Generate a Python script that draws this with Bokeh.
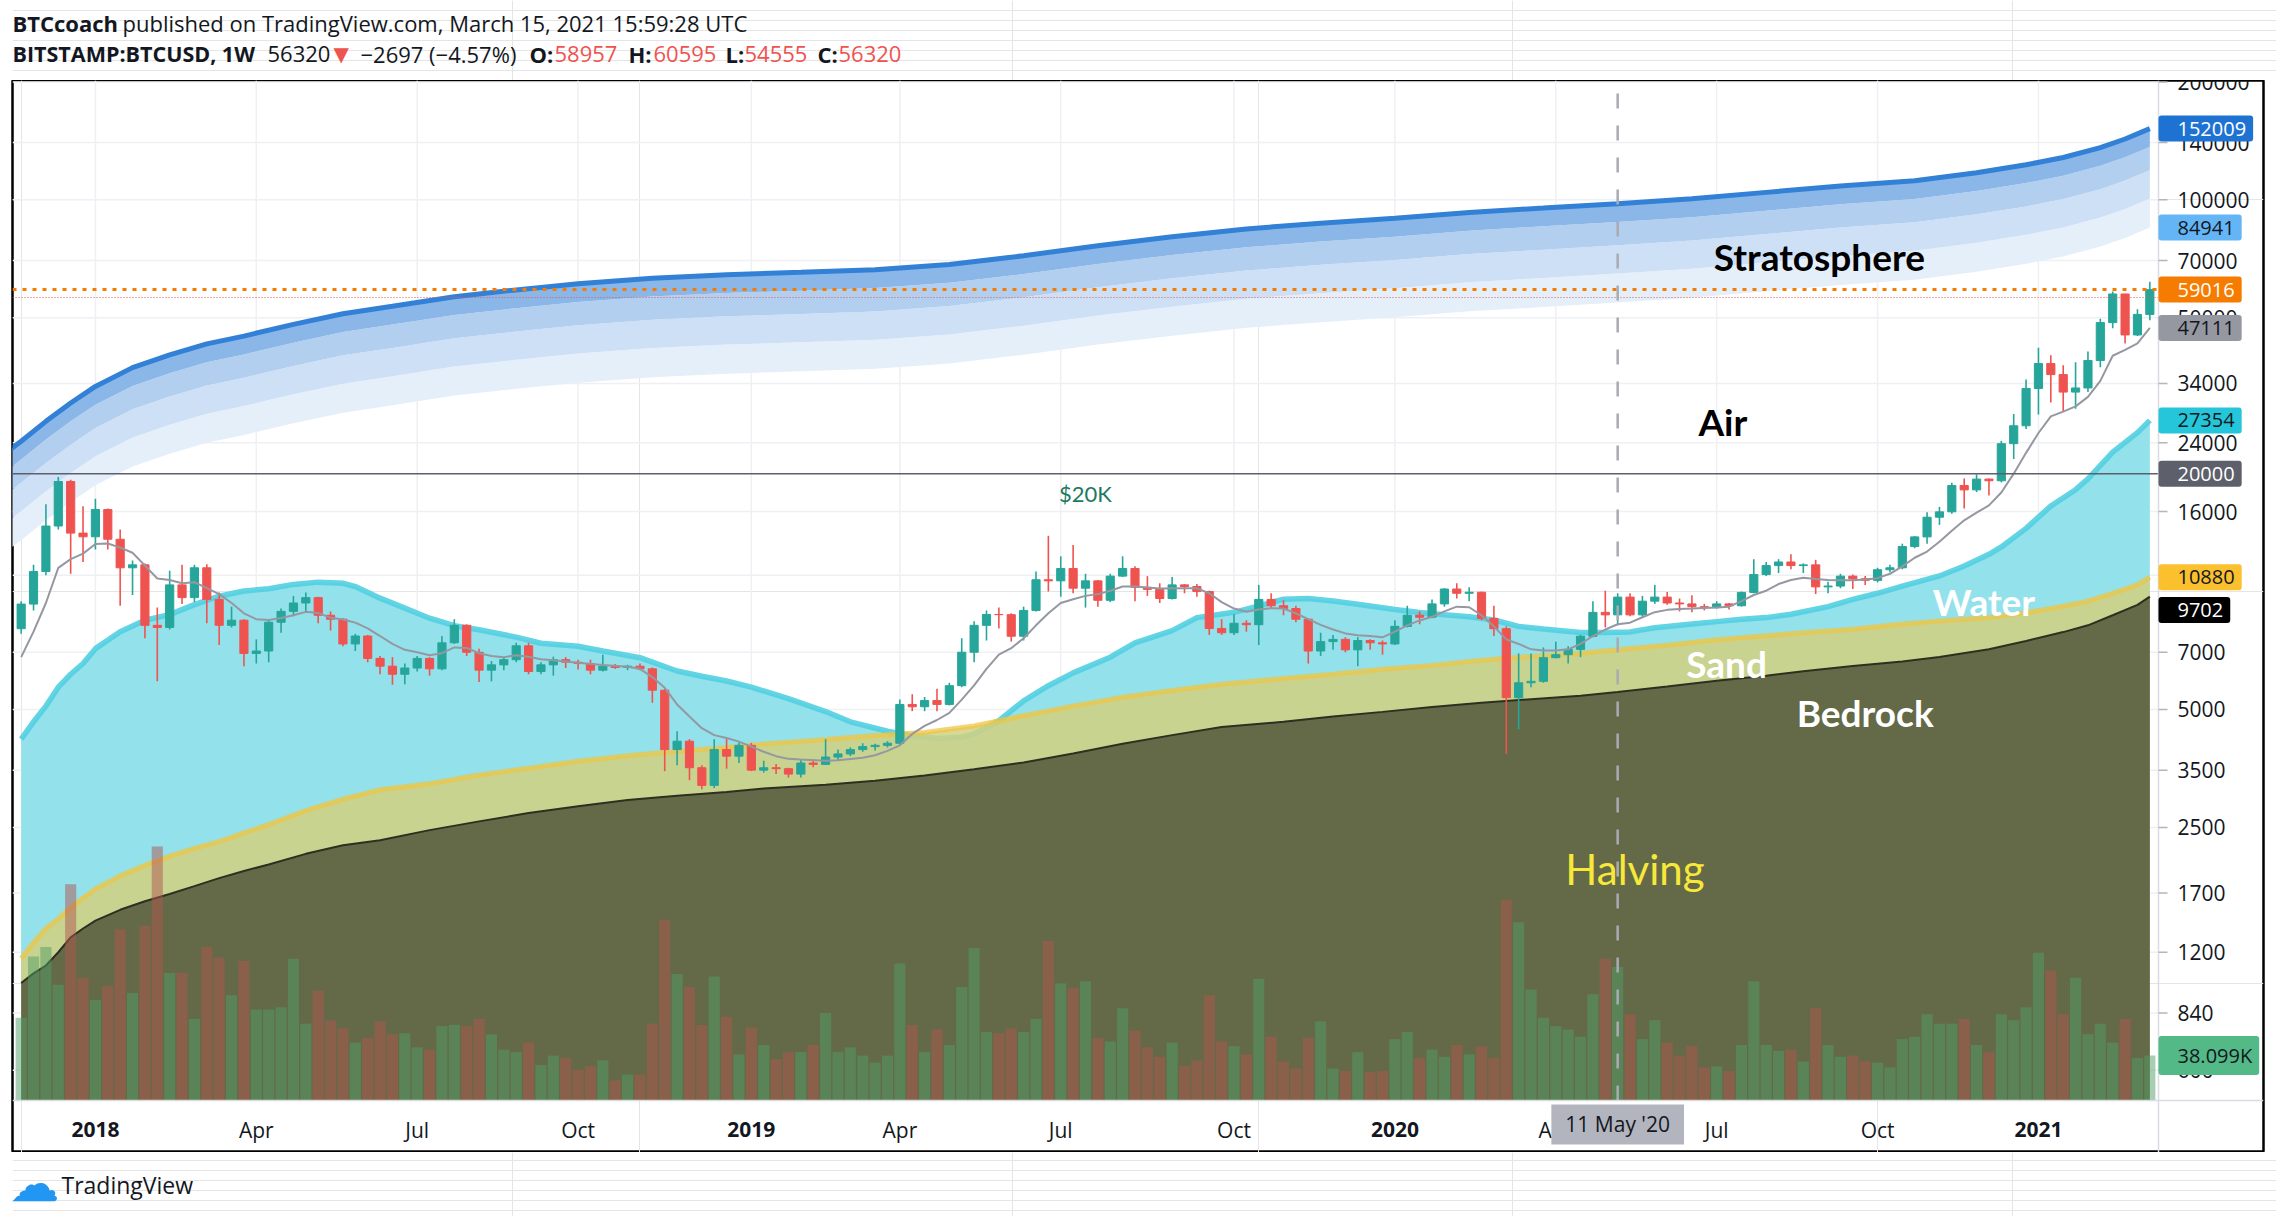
from bokeh.plotting import figure
from bokeh.layouts import column
from bokeh.models import Range1d, LinearScale, Label, ColumnDataSource
from bokeh.embed import file_html
from bokeh.resources import INLINE
from bokeh.core.properties import value

# ------------------------------------------------------------------ data
# weekly bars, index 0 = week of 20 Nov 2017 ... index 172 = week of 8 Mar 2021
opens = [8040, 9290, 11250, 14700, 19100, 14100, 13800, 16200, 13600, 11500,
         11700, 8200, 8100, 10400, 9650, 11500, 9550, 8200, 8450, 6950,
         7050, 8350, 8900, 9350, 9650, 8700, 8500, 7350, 7700, 6750,
         6450, 6150, 6380, 6750, 6350, 7400, 8200, 7000, 6300, 6500,
         6700, 7270, 6250, 6500, 6700, 6600, 6550, 6300, 6450, 6400,
         6450, 6350, 5600, 3950, 4150, 3550, 3200, 3950, 3800, 4050,
         3500, 3550, 3530, 3420, 3650, 3620, 3780, 3850, 3950, 4020,
         4050, 4100, 5150, 5080, 5270, 5150, 5750, 7000, 8200, 8740,
         8730, 7690, 8950, 10720, 10650, 11450, 10200, 10650, 9500, 10950,
         11450, 10250, 10130, 9600, 10400, 10300, 10000, 8050, 7850, 8300,
         8230, 9550, 9200, 9050, 8500, 7050, 7450, 7550, 7100, 7500,
         7400, 7350, 8150, 8700, 8600, 9300, 10150, 9900, 9960, 8540,
         8040, 5360, 5850, 5900, 6780, 6900, 7120, 7690, 8850, 8720,
         9680, 8720, 9450, 9680, 9350, 9300, 9150, 9100, 9300, 9200,
         9950, 11050, 11650, 11900, 11650, 11700, 10280, 10330, 10950, 10780,
         10680, 11370, 11500, 13030, 13790, 15480, 15980, 18650, 18180, 19370,
         19180, 23850, 26500, 33000, 38200, 35800, 32300, 33100, 38900, 48600,
         57500, 45200, 51000]
highs = [9450, 11700, 16700, 19600, 19300, 16500, 17250, 16300, 14400, 12000,
         11800, 9100, 11300, 11700, 11700, 11750, 9950, 9150, 8500, 7550,
         8450, 9050, 9750, 9950, 9700, 8900, 8550, 7800, 7750, 6850,
         6800, 6550, 6850, 6800, 7700, 8500, 8250, 7150, 6650, 6800,
         7400, 7400, 6600, 6820, 6800, 6700, 6700, 6900, 6530, 6500,
         6550, 6400, 5650, 4400, 4200, 3600, 4200, 4230, 4120, 4110,
         3700, 3630, 3550, 3720, 3700, 4200, 3950, 4000, 4100, 4090,
         4150, 5300, 5470, 5380, 5650, 5850, 7600, 8400, 8950, 9100,
         8800, 9150, 11250, 13880, 12300, 13150, 11100, 10700, 11100, 12300,
         11600, 10950, 10500, 10900, 10450, 10450, 10050, 8500, 8750, 8450,
         10400, 9900, 9500, 9200, 8500, 7850, 7750, 7650, 7650, 7550,
         7500, 8450, 9200, 8900, 9550, 10200, 10500, 10250, 10000, 9200,
         8150, 6950, 6950, 7200, 7450, 7250, 7750, 9450, 10050, 9900,
         9900, 9750, 10400, 9980, 9600, 9780, 9300, 9450, 9350, 10000,
         12100, 11900, 12100, 12450, 11800, 12050, 10600, 11100, 11050, 10950,
         11500, 11700, 13250, 13850, 15950, 16450, 18950, 19450, 19900, 19450,
         24250, 28400, 34800, 41950, 40100, 37850, 38500, 41000, 49700, 58350,
         57600, 52600, 61800]
lows = [7800, 8950, 11000, 14400, 11100, 11900, 12800, 12800, 9200, 9800,
        7600, 5900, 8000, 9300, 9400, 8300, 7300, 8100, 6450, 6550,
        6600, 7850, 8650, 8850, 8300, 7950, 7250, 7050, 6600, 6150,
        5780, 5800, 6250, 6100, 6300, 7350, 6850, 5880, 5900, 6300,
        6600, 6150, 6150, 6100, 6380, 6320, 6150, 6250, 6350, 6300,
        6300, 5200, 3480, 3600, 3300, 3130, 3150, 3530, 3650, 3480,
        3450, 3420, 3350, 3350, 3560, 3610, 3700, 3800, 3900, 3930,
        4000, 4050, 4950, 4950, 4950, 5120, 5700, 6600, 7500, 8050,
        7450, 7500, 8900, 10000, 9700, 9900, 9100, 9150, 9400, 10900,
        9450, 9750, 9350, 9550, 9900, 9700, 7750, 7750, 7750, 7900,
        7300, 9050, 8700, 8350, 6550, 6850, 7100, 7000, 6450, 7100,
        6900, 7300, 8100, 8250, 8550, 9150, 9600, 9450, 8450, 7700,
        3850, 4450, 5700, 5850, 6750, 6550, 6800, 7650, 8100, 8200,
        8650, 8630, 9300, 9250, 8900, 8850, 8950, 9050, 9000, 9150,
        9900, 10950, 11150, 11400, 11150, 9850, 9900, 10200, 10150, 10400,
        10550, 11200, 11400, 12900, 13250, 14800, 15800, 16300, 17950, 17600,
        19000, 21800, 26000, 28300, 30400, 28850, 29300, 32300, 37400, 47000,
        43000, 44950, 49300]
closes = [9290, 11250, 14700, 19100, 14100, 13800, 16200, 13600, 11500, 11700,
          8200, 8100, 10400, 9650, 11500, 9550, 8200, 8450, 6950, 7050,
          8350, 8900, 9350, 9650, 8700, 8500, 7350, 7700, 6750, 6450,
          6150, 6380, 6750, 6350, 7400, 8200, 7000, 6300, 6500, 6700,
          7270, 6250, 6500, 6700, 6600, 6550, 6300, 6450, 6400, 6450,
          6350, 5600, 3950, 4150, 3550, 3200, 3950, 3800, 4050, 3500,
          3550, 3530, 3420, 3650, 3620, 3780, 3850, 3950, 4020, 4050,
          4100, 5150, 5080, 5270, 5150, 5750, 7000, 8200, 8740, 8730,
          7690, 8950, 10720, 10650, 11450, 10200, 10650, 9500, 10950, 11450,
          10250, 10130, 9600, 10400, 10300, 10000, 8050, 7850, 8300, 8230,
          9550, 9200, 9050, 8500, 7050, 7450, 7550, 7100, 7500, 7400,
          7350, 8150, 8700, 8600, 9300, 10150, 9900, 9960, 8540, 8040,
          5360, 5850, 5900, 6780, 6900, 7120, 7690, 8850, 8720, 9680,
          8720, 9450, 9680, 9350, 9300, 9150, 9100, 9300, 9200, 9950,
          11050, 11650, 11900, 11650, 11700, 10280, 10330, 10950, 10780, 10680,
          11370, 11500, 13030, 13790, 15480, 15980, 18650, 18180, 19370, 19180,
          23850, 26500, 33000, 38200, 35800, 32300, 33100, 38900, 48600, 57500,
          45200, 51000, 59000]
volume_k = [70, 122, 130, 98, 183, 104, 85, 97, 145, 91,
            148, 215, 108, 108, 69, 130, 121, 89, 118, 77,
            77, 79, 120, 65, 93, 68, 61, 49, 53, 67,
            56, 57, 45, 43, 63, 64, 63, 69, 56, 43,
            41, 49, 30, 38, 36, 26, 29, 34, 17, 22,
            22, 65, 153, 107, 96, 64, 105, 71, 39, 62,
            47, 35, 41, 41, 47, 74, 41, 45, 38, 32,
            38, 116, 64, 41, 60, 47, 96, 129, 58, 57,
            61, 58, 69, 135, 99, 95, 101, 53, 50, 78,
            59, 45, 37, 49, 29, 34, 89, 50, 46, 39,
            103, 54, 33, 27, 53, 67, 27, 25, 41, 24,
            25, 52, 58, 36, 43, 37, 47, 39, 46, 36,
            170, 151, 94, 70, 63, 60, 54, 90, 120, 113,
            73, 52, 68, 49, 38, 46, 28, 29, 25, 47,
            101, 47, 42, 43, 33, 78, 47, 37, 38, 33,
            32, 28, 52, 54, 73, 65, 65, 69, 47, 41,
            73, 68, 79, 125, 110, 73, 104, 56, 65, 49,
            69, 36, 38.099]

# "Stratosphere" bands (top line and four lower band edges)
strat_idx = [-1, 0, 2, 4, 6, 9, 12, 15, 18, 22, 26, 30, 35, 40, 45, 51, 57, 63, 69, 75,
             81, 87, 93, 99, 105, 111, 117, 123, 129, 135, 141, 147, 153, 158, 162, 165, 168, 170, 172]
strat_top = [22900, 24200, 27200, 30300, 33400, 37300, 40200, 42900, 44900, 48100,
             51200, 53500, 56600, 58900, 61100, 63100, 64400, 65300, 66300, 68400,
             72000, 76400, 80500, 84300, 87170, 89700, 92900, 95300, 97800, 100600,
             104500, 108500, 111900, 117300, 122900, 128300, 136000, 143000, 152009]
strat_b1 = [20560, 21730, 24430, 27210, 29990, 33500, 36100, 38520, 40320, 43190,
            45980, 48040, 50830, 52890, 54870, 56660, 57830, 58640, 59540, 61420,
            64660, 68610, 72290, 75700, 78280, 80550, 83420, 85580, 87820, 90340,
            93840, 97430, 100490, 105340, 110360, 115210, 122130, 128410, 136500]
strat_b2 = [17930, 18950, 21300, 23720, 26150, 29210, 31480, 33590, 35160, 37660,
            40090, 41890, 44320, 46120, 47840, 49410, 50430, 51130, 51910, 53560,
            56380, 59820, 63030, 66010, 68250, 70240, 72740, 74620, 76580, 78770,
            81820, 84960, 87620, 91850, 96230, 100460, 106490, 111970, 119000]
strat_b3 = [15180, 16040, 18030, 20090, 22140, 24730, 26650, 28440, 29770, 31890,
            33950, 35470, 37530, 39050, 40510, 41840, 42700, 43290, 43960, 45350,
            47740, 50650, 53370, 55890, 57790, 59470, 61590, 63180, 64840, 66700,
            69280, 71940, 74190, 77770, 81480, 85060, 90170, 94810, 100800]
strat_b4 = [12800, 13530, 15200, 16940, 18670, 20850, 22470, 23980, 25100, 26890,
            28620, 29910, 31640, 32930, 34150, 35270, 36000, 36500, 37060, 38240,
            40250, 42710, 45000, 47120, 48730, 50140, 51930, 53270, 54670, 56240,
            58420, 60650, 62550, 65570, 68700, 71720, 76020, 79940, 84941]

# "Water" line
water_idx = [0, 1, 2, 3, 4, 5, 6, 8, 10, 12, 14, 16, 18, 20, 22, 24, 26, 27, 29, 31,
             33, 35, 37, 40, 42, 45, 47, 50, 53, 55, 57, 59, 62, 65, 67, 70, 72, 74, 76, 77,
             79, 81, 83, 85, 88, 90, 93, 95, 98, 100, 102, 104, 106, 108, 111, 113, 115, 117, 119, 121,
             123, 126, 128, 130, 132, 135, 137, 139, 141, 143, 146, 148, 150, 152, 155, 157, 159, 160, 162, 164,
             166, 167, 169, 171, 172]
water_val = [4200, 4650, 5100, 5700, 6150, 6550, 7150, 7900, 8450, 8730,
             9260, 9730, 10030, 10170, 10430, 10570, 10500, 10300, 9620, 9070,
             8550, 8180, 7990, 7650, 7380, 7250, 7050, 6780, 6270, 6080,
             5910, 5700, 5330, 4940, 4650, 4400, 4280, 4215, 4250, 4330,
             4680, 5260, 5750, 6200, 6800, 7400, 7950, 8580, 8850, 9190,
             9560, 9600, 9460, 9280, 9000, 8840, 8720, 8620, 8460, 8150,
             8020, 7860, 7860, 7890, 8080, 8260, 8380, 8500, 8580, 8750,
             9150, 9550, 9900, 10330, 10960, 11620, 12450, 13000, 14500, 16540,
             18200, 19400, 22700, 25450, 27354]

# "Sand" and "Bedrock" lines
ground_idx = [0, 1, 2, 3, 4, 5, 6, 8, 10, 12, 14, 16, 18, 20, 23, 26, 29, 33, 37, 41,
              45, 49, 53, 57, 60, 65, 69, 73, 77, 81, 85, 89, 93, 97, 102, 106, 110, 114, 118, 122,
              126, 129, 133, 137, 141, 144, 148, 152, 155, 159, 162, 165, 167, 169, 171, 172]
sand_val = [1157, 1270, 1380, 1460, 1560, 1650, 1740, 1880, 2000, 2110,
            2210, 2300, 2420, 2540, 2760, 2950, 3120, 3230, 3400, 3540,
            3690, 3810, 3910, 4000, 4080, 4190, 4290, 4370, 4540, 4820,
            5100, 5370, 5590, 5800, 6000, 6150, 6330, 6480, 6680, 6830,
            6960, 7100, 7290, 7530, 7710, 7850, 8010, 8260, 8410, 8580,
            8830, 9170, 9450, 9900, 10400, 10880]
bedrock_val = [1002, 1060, 1110, 1200, 1310, 1380, 1445, 1540, 1620, 1690,
               1770, 1855, 1935, 2010, 2140, 2250, 2318, 2460, 2590, 2720,
               2830, 2935, 3010, 3080, 3140, 3210, 3290, 3390, 3520, 3660,
               3860, 4090, 4300, 4510, 4650, 4800, 4930, 5070, 5200, 5310,
               5420, 5540, 5720, 5920, 6100, 6260, 6460, 6630, 6810, 7120,
               7480, 7880, 8200, 8700, 9250, 9702]

# thin grey moving-average line
sma_idx = [0, 1, 2, 3, 4, 5, 6, 7, 8, 9, 10, 11, 12, 13, 14, 15, 16, 17, 18, 19,
           20, 21, 22, 23, 24, 25, 26, 27, 28, 29, 30, 31, 32, 33, 34, 35, 36, 37, 38, 39,
           40, 41, 42, 43, 45, 47, 49, 50, 51, 52, 53, 54, 55, 56, 57, 58, 59, 60, 61, 62,
           63, 65, 66, 68, 69, 70, 71, 72, 73, 74, 75, 76, 77, 78, 79, 80, 81, 82, 83, 84,
           85, 86, 87, 88, 89, 90, 92, 94, 95, 96, 97, 98, 99, 100, 101, 102, 103, 104, 105, 106,
           107, 108, 109, 110, 111, 112, 113, 114, 115, 116, 117, 118, 119, 120, 121, 122, 123, 124, 125, 126,
           127, 128, 129, 130, 131, 132, 133, 134, 135, 136, 137, 138, 139, 140, 141, 142, 143, 144, 145, 146,
           147, 148, 149, 150, 151, 152, 153, 154, 155, 156, 157, 158, 159, 160, 161, 162, 163, 164, 165, 166,
           167, 168, 169, 170, 171, 172]
sma_val = [6800, 7900, 9350, 11490, 12100, 12500, 13230, 13260, 12950, 12560,
           11650, 10800, 10700, 10500, 10570, 10200, 9850, 9350, 8800, 8500,
           8460, 8560, 8700, 8875, 8820, 8570, 8490, 8330, 8050, 7700,
           7350, 7100, 7000, 6880, 6960, 7200, 7180, 6960, 6850, 6800,
           6880, 6820, 6720, 6680, 6580, 6490, 6430, 6350, 6050, 5680,
           5150, 4800, 4480, 4300, 4230, 4140, 4020, 3900, 3800, 3740,
           3725, 3700, 3710, 3765, 3820, 3920, 4050, 4330, 4540, 4700,
           4900, 5300, 5760, 6350, 6900, 7170, 7600, 8200, 8800, 9350,
           9560, 9750, 9850, 10050, 10300, 10300, 10180, 10200, 10190, 9900,
           9400, 9050, 8880, 9000, 9070, 9050, 8800, 8500, 8220, 8000,
           7820, 7740, 7700, 7640, 7900, 8200, 8440, 8620, 8900, 9150,
           9120, 8700, 8150, 7550, 7350, 7120, 7070, 7070, 7120, 7350,
           7700, 8000, 8250, 8330, 8600, 8860, 8980, 9030, 9050, 9080,
           9110, 9150, 9450, 9800, 10050, 10450, 10700, 10850, 10760, 10700,
           10690, 10690, 10730, 10820, 11100, 11600, 12200, 12650, 13400, 14300,
           15200, 15900, 16600, 17900, 20000, 22600, 25400, 28000, 28800, 29700,
           31400, 34500, 40000, 41400, 43000, 47111]

price_ticks = [600, 840, 1200, 1700, 2500, 3500, 5000, 7000, 11000, 16000,
               24000, 34000, 50000, 70000, 100000, 140000, 200000]
month_ticks = [19, 32, 45, 71, 84, 98, 124, 137, 150]
month_labels = ["Apr", "Jul", "Oct", "Apr", "Jul", "Oct", "Apr", "Jul", "Oct"]
year_ticks = [6, 59, 111, 163]
year_labels = ["2018", "2019", "2020", "2021"]

halving_week = 129
halving_date = "11 May '20"
level_20k = 20000
level_orange = 59016
last_price = 56320

# ------------------------------------------------------------------ geometry (layout only)
PAGE_W = 2276
FW, FH = 2251, 1072                 # bordered chart box
X0, X1 = -0.7, 172.7                # candle area (week units)
PX_PER_WEEK = 2146 / (X1 - X0)
XR = X1 + 105 / PX_PER_WEEK         # right edge of the price scale strip
Y0, Y1 = 502, 201700                # candle area (price units)
YB = 369.8                          # bottom of the time-scale strip
VOL_TOP = 863500                    # volume at the top of the candle area
VOL_BOTTOM = -44022                 # volume value at the bottom of the time strip
TIME_LABEL_Y = 423                  # centre line of time labels (inside time strip)
DATE_BADGE_Y = 436
AX_LABEL_X = X1 + 19 / PX_PER_WEEK
TICK_X = X1 + 9 / PX_PER_WEEK
BEDROCK_BADGE_Y = 8970              # badge pushed down so it does not overlap the sand badge
HX = -11                            # header/footer text x correction
FX = -13

TEAL, RED, INK = "#26a69a", "#ef5350", "#131722"
GRID, SEP = "#eef0f4", "#d9dce3"

p = figure(frame_width=FW, frame_height=FH, output_backend="svg", toolbar_location=None,
           x_range=Range1d(X0, XR), y_range=Range1d(YB, Y1), y_axis_type="log",
           x_axis_location=None, y_axis_location=None,
           min_border_left=12, min_border_right=PAGE_W - 12 - FW, min_border_top=0, min_border_bottom=0,
           background_fill_color="white", border_fill_color="white",
           outline_line_color="#000000", outline_line_width=2.5)
p.extra_y_ranges = {"vol": Range1d(VOL_BOTTOM, VOL_TOP)}
p.extra_y_scales = {"vol": LinearScale()}

# grid lines
all_time_ticks = month_ticks + year_ticks
p.segment(x0=all_time_ticks, y0=[Y0] * len(all_time_ticks), x1=all_time_ticks,
          y1=[Y1] * len(all_time_ticks), line_color=GRID, line_width=1.5)
p.segment(x0=[X0] * len(price_ticks), y0=price_ticks, x1=[X1] * len(price_ticks),
          y1=price_ticks, line_color=GRID, line_width=1.5)

# stratosphere bands
p.varea(x=strat_idx, y1=strat_b4, y2=strat_b3, fill_color="#e4effa")
p.varea(x=strat_idx, y1=strat_b3, y2=strat_b2, fill_color="#cde0f5")
p.varea(x=strat_idx, y1=strat_b2, y2=strat_b1, fill_color="#b2cfef")
p.varea(x=strat_idx, y1=strat_b1, y2=strat_top, fill_color="#8bb7e8")
p.line(x=strat_idx, y=strat_top, line_color="#3281d6", line_width=5)

# water / sand / bedrock
p.varea(x=water_idx, y1=[Y0] * len(water_idx), y2=water_val, fill_color="#93e1ea")
p.line(x=water_idx, y=water_val, line_color="#52cfe1", line_width=5.5, line_alpha=0.9)
p.varea(x=ground_idx, y1=[Y0] * len(ground_idx), y2=sand_val, fill_color="#d1d080", fill_alpha=0.85)
p.line(x=ground_idx, y=sand_val, line_color="#efc643", line_width=5, line_alpha=0.75)
p.varea(x=ground_idx, y1=[Y0] * len(ground_idx), y2=bedrock_val, fill_color="#646a47")
p.line(x=ground_idx, y=bedrock_val, line_color="#2c3020", line_width=2)

# volume
weeks = list(range(len(closes)))
up = [c >= o for o, c in zip(opens, closes)]
vsrc = ColumnDataSource(dict(x=weeks, top=[v * 1000 for v in volume_k],
                             color=["#509e67" if u else "#b2564f" for u in up]))
p.vbar(x="x", top="top", bottom=0, width=0.9, source=vsrc, y_range_name="vol",
       fill_color="color", fill_alpha=0.5, line_color=None)

# candles
csrc = ColumnDataSource(dict(x=weeks, h=highs, l=lows,
                             top=[max(o, c) for o, c in zip(opens, closes)],
                             bot=[min(o, c) for o, c in zip(opens, closes)],
                             color=[TEAL if u else RED for u in up]))
p.segment(x0="x", y0="l", x1="x", y1="h", source=csrc, line_color="color", line_width=1.6)
p.vbar(x="x", top="top", bottom="bot", width=0.66, source=csrc,
       fill_color="color", line_color="color", line_width=1)

p.line(x=sma_idx, y=sma_val, line_color="#9598a1", line_width=2)

# horizontal levels and the halving marker
p.segment(x0=[X0], y0=[level_20k], x1=[X1], y1=[level_20k], line_color="#5d606b", line_width=1.5)
p.segment(x0=[X0], y0=[level_orange], x1=[X1], y1=[level_orange], line_color="#f57c00",
          line_width=3, line_dash="4 6")
p.segment(x0=[X0], y0=[last_price], x1=[X1], y1=[last_price], line_color=RED,
          line_width=1, line_dash="1 2")
p.segment(x0=[halving_week], y0=[Y0], x1=[halving_week], y1=[Y1], line_color="#a9abb3",
          line_width=2.5, line_dash="15 17")

# scale separators
p.segment(x0=[X1], y0=[YB], x1=[X1], y1=[Y1], line_color=SEP, line_width=1.5)
p.segment(x0=[X0], y0=[Y0], x1=[XR], y1=[Y0], line_color=SEP, line_width=1.5)

# price scale: ticks and labels
p.segment(x0=[X1] * len(price_ticks), y0=price_ticks, x1=[TICK_X] * len(price_ticks),
          y1=price_ticks, line_color="#b2b5be", line_width=1.5)
p.text(x=[AX_LABEL_X] * len(price_ticks), y=price_ticks, text=[str(t) for t in price_ticks],
       text_font=value("Open Sans"), text_font_size="21px", text_color=INK,
       text_align="left", text_baseline="middle")

# time scale labels
p.text(x=month_ticks, y=[TIME_LABEL_Y] * len(month_ticks), text=month_labels,
       text_font=value("Open Sans"), text_font_size="21px", text_color=INK,
       text_align="center", text_baseline="middle")
p.text(x=year_ticks, y=[TIME_LABEL_Y] * len(year_ticks), text=year_labels,
       text_font=value("Open Sans"), text_font_size="21px", text_font_style="bold",
       text_color=INK, text_align="center", text_baseline="middle")

# zone texts
def zone(x, y, text, color, size="37px", style="bold"):
    p.add_layout(Label(x=x, y=y, text=text, text_font="Lato", text_font_size=size,
                       text_font_style=style, text_color=color,
                       text_align="center", text_baseline="middle"))

zone(145.3, 71800, "Stratosphere", "#000000")
zone(137.5, 27200, "Air", "#000000")
zone(158.6, 9440, "Water", "#ffffff")
zone(137.8, 6550, "Sand", "#ffffff")
zone(149.0, 4920, "Bedrock", "#ffffff")
zone(130.4, 1955, "Halving", "#f7e83a", size="42px", style="normal")
zone(86.0, 17800, "$20K", "#1b7a5f", size="22px", style="normal")

# price-scale badges (box starts at the scale separator)
def badge(y, text, bg, fg, yr="default"):
    p.add_layout(Label(x=X1, y=y, y_range_name=yr,
                       text=text, text_font="Open Sans", text_font_size="20px", text_color=fg,
                       text_align="left", text_baseline="middle",
                       background_fill_color=bg, background_fill_alpha=1.0,
                       padding=dict(left=19, right=7, top=6, bottom=6), border_radius=3))

badge(152009, "152009", "#1e73d2", "#ffffff")
badge(84941, "84941", "#64b5f6", INK)
badge(59016, "59016", "#f57c00", "#ffffff")
badge(47111, "47111", "#9598a1", INK)
badge(27354, "27354", "#26c6da", INK)
badge(20000, "20000", "#5d606b", "#ffffff")
badge(10880, "10880", "#fbc02d", INK)
badge(BEDROCK_BADGE_Y, "9702", "#000000", "#ffffff")
badge(38099, "38.099K", "#53b987", INK, yr="vol")

# crosshair date badge on the time scale
p.add_layout(Label(x=halving_week, y=DATE_BADGE_Y, text=halving_date,
                   text_font="Open Sans", text_font_size="21px", text_color=INK,
                   text_align="center", text_baseline="middle",
                   background_fill_color="#b2b5be", background_fill_alpha=1.0,
                   padding=dict(left=14, right=14, top=6, bottom=6)))

# ------------------------------------------------------------------ header
hdr = figure(frame_width=PAGE_W, frame_height=80, output_backend="svg", toolbar_location=None,
             x_range=Range1d(0, PAGE_W), y_range=Range1d(80, 0),
             x_axis_location=None, y_axis_location=None,
             min_border=0, min_border_left=0, min_border_right=0, min_border_top=0, min_border_bottom=0,
             outline_line_color=None, background_fill_color="white", border_fill_color="white")

def htxt(fig, x, y, text, color=INK, style="normal", size="22px", font="Open Sans"):
    fig.add_layout(Label(x=x, y=y, text=text, text_font=font, text_font_size=size,
                         text_font_style=style, text_color=color,
                         text_align="left", text_baseline="middle"))

L1, L2 = 22.2, 53.0
htxt(hdr, 11 + HX, L1, "BTCcoach", style="bold")
htxt(hdr, 121 + HX, L1, "published on TradingView.com, March 15, 2021 15:59:28 UTC")
htxt(hdr, 11 + HX, L2, "BITSTAMP:BTCUSD, 1W", style="bold", size="21.5px")
htxt(hdr, 266 + HX, L2, "56320")
htxt(hdr, 332 + HX, L2, "\u25bc", color=RED, font="DejaVu Sans", size="20px")
htxt(hdr, 359 + HX, L2, "\u22122697 (\u22124.57%)")
htxt(hdr, 528 + HX, L2, "O:", style="bold")
htxt(hdr, 553 + HX, L2, "58957", color=RED)
htxt(hdr, 627 + HX, L2, "H:", style="bold")
htxt(hdr, 652 + HX, L2, "60595", color=RED)
htxt(hdr, 724 + HX, L2, "L:", style="bold")
htxt(hdr, 743 + HX, L2, "54555", color=RED)
htxt(hdr, 816 + HX, L2, "C:", style="bold")
htxt(hdr, 837 + HX, L2, "56320", color=RED)

# ------------------------------------------------------------------ footer
FOOT_TOP, FOOT_H = 1152, 64
ftr = figure(frame_width=PAGE_W, frame_height=FOOT_H, output_backend="svg", toolbar_location=None,
             x_range=Range1d(0, PAGE_W), y_range=Range1d(FOOT_TOP + FOOT_H, FOOT_TOP),
             x_axis_location=None, y_axis_location=None,
             min_border=0, min_border_left=0, min_border_right=0, min_border_top=0, min_border_bottom=0,
             outline_line_color=None, background_fill_color="white", border_fill_color="white")
ftr.add_layout(Label(x=35 + FX, y=1183, text="\u2601", text_font="DejaVu Sans", text_font_size="50px",
                     text_color="#2196f3", text_align="center", text_baseline="middle"))
htxt(ftr, 62 + FX, 1184.5, "TradingView", size="23px")

root = column(hdr, p, ftr, spacing=0)
open("out.html", "w").write(file_html(root, INLINE, "BTCUSD 1W"))
